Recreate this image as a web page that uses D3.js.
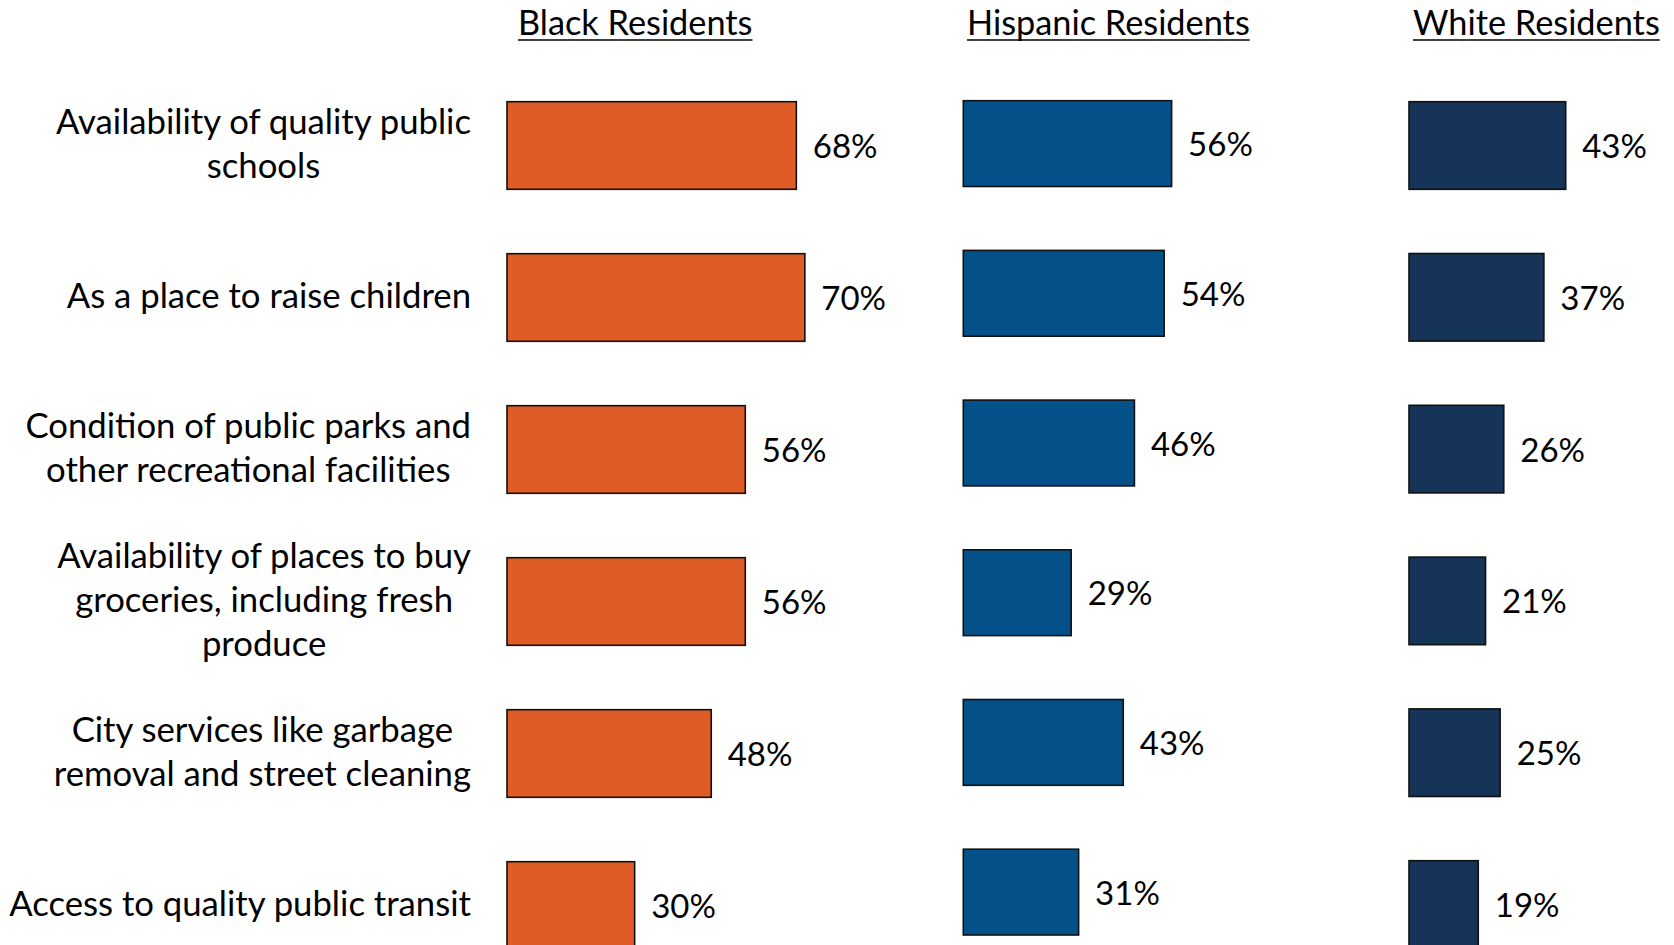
<!DOCTYPE html>
<html><head><meta charset="utf-8">
<script src="https://cdn.jsdelivr.net/npm/d3@7"></script>
<style>
body{margin:0;background:#fff}
svg{display:block}
text{font-family:Lato,"Noto Sans",sans-serif;fill:#000}
</style>
</head><body>
<svg id="chart" width="1674" height="945"></svg>
<script>
// ---- data ----
const categories = ["schools","children","parks","groceries","services","transit"];
const categoryLabels = [
  ["Availability of quality public","schools"],
  ["As a place to raise children"],
  ["Condition of public parks and","other recreational facilities"],
  ["Availability of places to buy","groceries, including fresh","produce"],
  ["City services like garbage","removal and street cleaning"],
  ["Access to quality public transit"]
];
const groups = ["Black Residents","Hispanic Residents","White Residents"];
const blackValues = [68,70,56,56,48,30];
const hispanicValues = [56,54,46,29,43,31];
const whiteValues = [43,37,26,21,25,19];
const groupColors = ["#E05C27","#045189","#153457"];

// ---- layout ----
const FS_HEAD = 34.3, FS_LAB = 34.7, FS_VAL = 33;
const svg = d3.select("#chart");
const panels = [
  {name:groups[0], values:blackValues,    color:groupColors[0], x0:507,   full:425.5, top:101.7, step:152,   barH:87.6, hx:518},
  {name:groups[1], values:hispanicValues, color:groupColors[1], x0:963.3, full:372,   top:100.7, step:149.7, barH:85.8, hx:967},
  {name:groups[2], values:whiteValues,    color:groupColors[2], x0:1409,  full:364.5, top:101.7, step:151.8, barH:87.6, hx:1413}
];

function bandScale(p){
  const pad = 1 - p.barH / p.step;
  const start = p.top - (pad/2) * p.step;
  return d3.scaleBand().domain(categories)
    .range([start, start + categories.length * p.step])
    .paddingInner(pad).paddingOuter(pad/2);
}

panels.forEach(p => {
  const x = d3.scaleLinear().domain([0,100]).range([p.x0, p.x0 + p.full]);
  const y = bandScale(p);
  const g = svg.append("g");
  // header
  const h = g.append("text").attr("x", p.hx).attr("y", 35)
    .style("font-size", FS_HEAD + "px").text(p.name);
  const w = h.node().getComputedTextLength();
  g.append("line").attr("x1", p.hx).attr("x2", p.hx + w)
    .attr("y1", 40).attr("y2", 40).attr("stroke", "#000").attr("stroke-width", 1.6);
  // bars
  g.selectAll("rect").data(p.values).join("rect")
    .attr("x", x(0))
    .attr("y", (d,i) => y(categories[i]))
    .attr("width", d => x(d) - x(0))
    .attr("height", y.bandwidth())
    .attr("fill", p.color)
    .attr("stroke", "#111").attr("stroke-width", 1.6);
  // value labels
  g.selectAll("text.val").data(p.values).join("text").attr("class","val")
    .attr("x", d => x(d) + 16.5)
    .attr("y", (d,i) => y(categories[i]) + y.bandwidth()/2 + 12.5)
    .style("font-size", FS_VAL + "px")
    .text(d => d + "%");
});

// category labels aligned to first panel rows
const yLab = bandScale(panels[0]);
const labelRight = 471;
const lg = svg.append("g");
categoryLabels.forEach((lines, i) => {
  const cy = yLab(categories[i]) + yLab.bandwidth()/2;
  const n = lines.length;
  const texts = lines.map((ln, j) => lg.append("text")
    .attr("y", cy + (j - (n-1)/2) * 44 + 10)
    .attr("text-anchor", "middle")
    .style("font-size", FS_LAB + "px").text(ln));
  const maxW = d3.max(texts, t => t.node().getComputedTextLength());
  texts.forEach(t => t.attr("x", labelRight - maxW/2));
});
</script>
</body></html>
